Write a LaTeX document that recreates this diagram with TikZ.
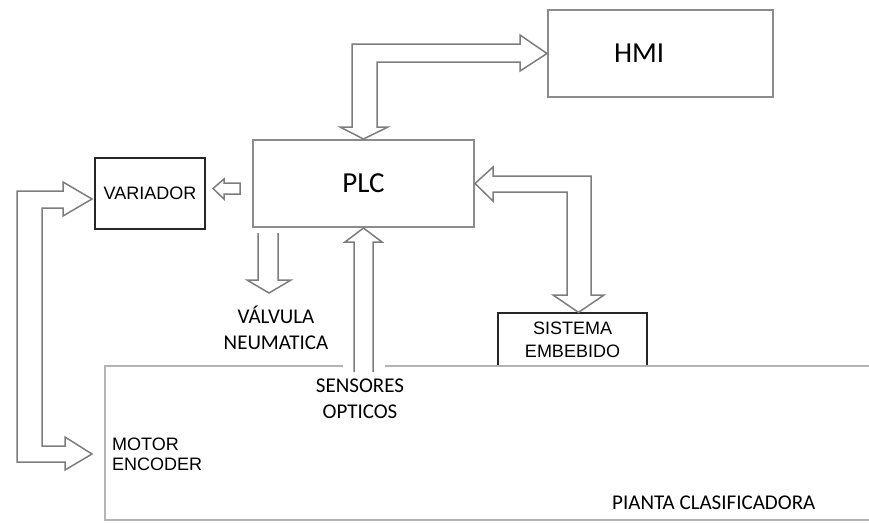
\documentclass[tikz,border=0pt]{standalone}
\usepackage{fontspec}
\setmainfont{Carlito}
\newfontfamily\arialf{Liberation Sans}
\definecolor{bordegris}{RGB}{140,140,140}
\definecolor{flechagris}{RGB}{125,125,125}
\definecolor{plantagris}{RGB}{180,180,180}
\tikzset{
  cajagris/.style={draw=bordegris, line width=2, inner sep=0},
  cajanegra/.style={draw=black!85, line width=1.3, inner sep=0},
  flecha/.style={draw=flechagris, line width=1.5, line join=miter},
  planta/.style={draw=plantagris, line width=2.5},
  etiqueta/.style={align=center, inner sep=0, font=\fontsize{21}{26}\selectfont},
  etiquetaarial/.style={align=left, inner sep=0, font=\arialf\fontsize{18}{20}\selectfont}
}
\begin{document}
\begin{tikzpicture}[x=1pt,y=-1pt]
    \useasboundingbox (0,0) rectangle (869,523);

    % bloques
    \node[cajagris, minimum width=221, minimum height=87,
          font=\fontsize{29}{30}\selectfont] (PLC) at (363.5,183.5) {PLC};
    \node[cajagris, minimum width=225, minimum height=87, text width=225, align=left,
          font=\fontsize{29}{30}\selectfont] (HMI) at (660.5,53.5) {\hspace*{66pt}HMI};
    \node[cajanegra, minimum width=110, minimum height=71,
          font=\arialf\fontsize{18}{20}\selectfont] (VAR) at (150,193.5) {VARIADOR};
    \node[cajanegra, minimum width=149, minimum height=53, align=center,
          font=\arialf\fontsize{18}{23}\selectfont] (SIS) at (572.5,339.5) {SISTEMA\\EMBEBIDO};

    % planta
    \draw[planta] (343,366) -| (105,520) -- (869,520);
    \draw[planta] (385,366) -- (869,366);

    % PLC <-> HMI
    \draw[flecha] (PLC.north) -- (340,127) -- (352,127) -- (352,44) -- (520,44)
        -- (520,35) -- (HMI.west) -- (520,71) -- (520,62) -- (377,62)
        -- (377,127) -- (388,127) -- cycle;
    % PLC <-> sistema embebido
    \draw[flecha] (PLC.east) -- (493,167) -- (493,176) -- (591,176) -- (591,295)
        -- (604,295) -- ([xshift=6]SIS.north) -- (553,295) -- (567,295)
        -- (567,192) -- (493,192) -- (493,201) -- cycle;
    % PLC -> variador
    \draw[flecha] (213,188.5) -- (224,179) -- (224,183) -- (240,183) -- (240,194)
        -- (224,194) -- (224,199) -- cycle;
    % variador <-> motor
    \draw[flecha] (92,199) -- (63,182) -- (63,191) -- (17,191) -- (17,462)
        -- (65,462) -- (65,470) -- (92,454) -- (65,437) -- (65,446)
        -- (42,446) -- (42,208) -- (63,208) -- (63,216) -- cycle;
    % valvula
    \draw[flecha] (258,233) -- (258,280) -- (247,280) -- (269,293) -- (291,280)
        -- (278,280) -- (278,233);
    % sensores
    \draw[flecha] (354,372) -- (354,242) -- (345,242) -- (PLC.south) -- (382,242)
        -- (373,242) -- (373,372);

    % textos
    \node[etiqueta] (valv) at (276,328) {VÁLVULA\\NEUMATICA};
    \node[etiqueta] (sens) at (360,399) {SENSORES\\OPTICOS};
    \node[etiquetaarial, anchor=west] (mot) at (112,454) {MOTOR\\ENCODER};
    \node[etiqueta, anchor=west] (pla) at (612,503) {PIANTA CLASIFICADORA};
\end{tikzpicture}
\end{document}
